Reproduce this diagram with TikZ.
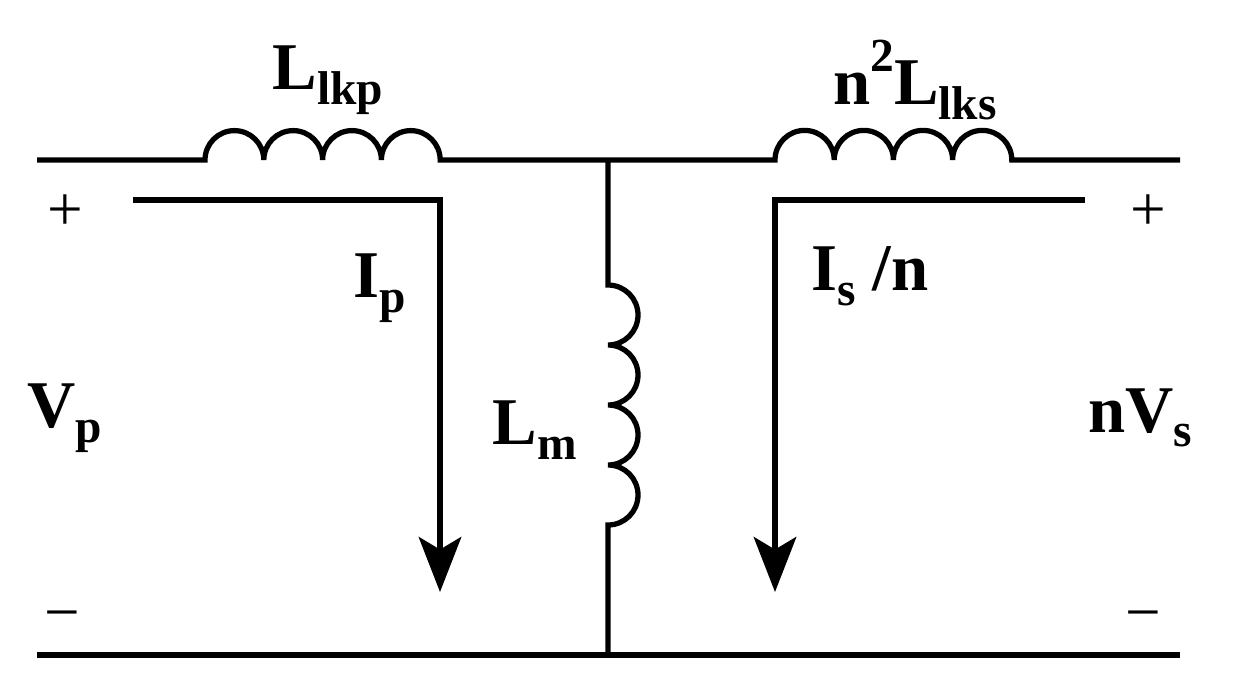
\documentclass[tikz,border=0pt]{standalone}
\usepackage{fontspec}
\setmainfont{Liberation Serif}
\usetikzlibrary{arrows.meta}
\newcommand{\mysub}[1]{\raisebox{-0.22em}{\fontsize{27}{30}\selectfont #1}}
\newcommand{\mysup}[1]{\raisebox{0.5em}{\fontsize{27}{30}\selectfont #1}}
\begin{document}
\begin{tikzpicture}[x=0.02cm,y=-0.02cm,
  w/.style={line width=3pt},
  cur/.style={line width=3pt,-{Stealth[length=1.1cm,width=0.85cm,inset=0.25cm]}},
  lbl/.style={font=\fontsize{38}{42}\selectfont\bfseries,inner sep=0pt},
  sgn/.style={font=\fontsize{36}{40}\selectfont,inner sep=0pt}]
\useasboundingbox (0,0) rectangle (1237,680);
\coordinate (tl) at (37,160); \coordinate (l1a) at (205,160);
\coordinate (tm) at (608,160); \coordinate (l2a) at (775,160);
\coordinate (tr) at (1180,160);
\coordinate (lma) at (608,285); \coordinate (bm) at (608,655);
\coordinate (bl) at (37,655); \coordinate (br) at (1180,655);
\draw[w] (tl) -- (l1a) \foreach \i in {1,...,4}{ arc(180:0:29.4 and -29.4)} -- (l2a)
   \foreach \i in {1,...,4}{ arc(180:0:29.6 and -29.6)} -- (tr);
\draw[w] (tm) -- (lma) \foreach \i in {1,...,4}{ arc(90:-90:30 and -30)} -- (bm);
\draw[w] (bl) -- (br);
\coordinate (c1s) at (133,200); \coordinate (c1c) at (440,200); \coordinate (c1e) at (440,592);
\coordinate (c2s) at (1085,200); \coordinate (c2c) at (775,200); \coordinate (c2e) at (775,592);
\draw[cur] (c1s) -- (c1c) -- (c1e);
\draw[cur] (c2s) -- (c2c) -- (c2e);
\node[sgn] (p1) at (65,213) {+};
\node[sgn] (p2) at (1148,213) {+};
\node[sgn] (m1) at (62,622) {\textminus};
\node[sgn] (m2) at (1143,622) {\textminus};
\node[lbl] (Llkp) at (328,80) {L\mysub{lkp}};
\node[lbl] (Llks) at (915,80) {n\mysup{2}L\mysub{lks}};
\node[lbl] (Ip) at (380,288) {I\mysub{p}};
\node[lbl] (Is) at (870,276) {I\mysub{s} /n};
\node[lbl] (Lm) at (535,430) {L\mysub{m}};
\node[lbl] (Vp) at (65,418) {V\mysub{p}};
\node[lbl] (nVs) at (1140,418) {nV\mysub{s}};
\end{tikzpicture}
\end{document}
